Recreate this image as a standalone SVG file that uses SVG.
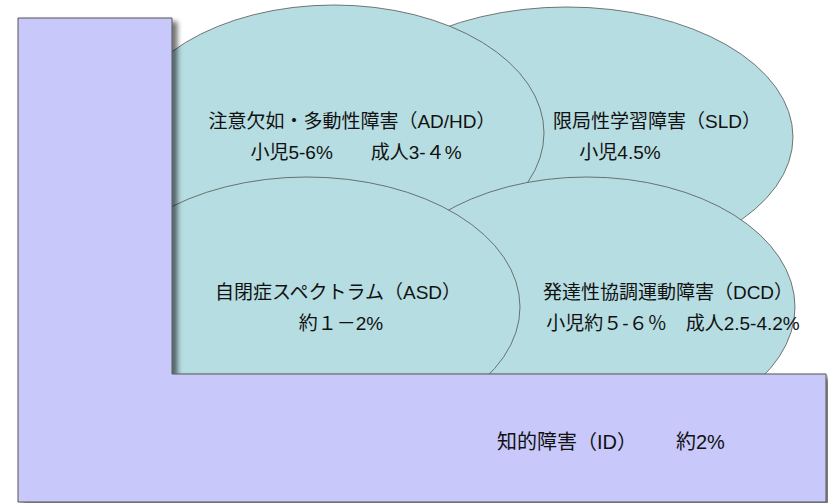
<svg xmlns="http://www.w3.org/2000/svg" width="828" height="503" viewBox="0 0 828 503">
<defs>
<style>
.ell{fill:#b6dde1;stroke:#555;stroke-width:0.8}
.lshape{fill:#c8c8fb;stroke:#555;stroke-width:1}
text{font-family:"Liberation Sans","Noto Sans CJK JP",sans-serif;font-size:19px;fill:#111;text-anchor:middle}
text.id{font-size:20px;text-anchor:start}
</style>
<filter id="sh" x="-10%" y="-10%" width="130%" height="130%">
<feDropShadow dx="5" dy="4" stdDeviation="2.5" flood-color="#000" flood-opacity="0.55"/>
</filter>
</defs>
<rect width="828" height="503" fill="#fff"/>
<g id="sld"><ellipse class="ell" cx="567" cy="137" rx="226" ry="130"/>
<text x="657" y="128">限局性学習障害（SLD）</text>
<text x="620" y="159">小児4.5%</text></g>
<g id="adhd"><ellipse class="ell" cx="334" cy="133" rx="210" ry="128"/>
<text x="352" y="128">注意欠如・多動性障害（AD/HD）</text>
<text x="356" y="159">小児5-6%　　成人3-４%</text></g>
<g id="dcd"><ellipse class="ell" cx="587" cy="307" rx="208" ry="130"/>
<text x="668" y="299">発達性協調運動障害（DCD）</text>
<text x="673" y="330">小児約５-６％　成人2.5-4.2%</text></g>
<g id="asd"><ellipse class="ell" cx="307" cy="307" rx="213" ry="130"/>
<text x="338" y="299">自閉症スペクトラム（ASD）</text>
<text x="341" y="330">約１－2%</text></g>
<g id="id"><path class="lshape" filter="url(#sh)" d="M18,18 H172 V374 H826 V502 H18 Z"/>
<text class="id" x="497" y="449">知的障害（ID）<tspan x="676">約2%</tspan></text></g>
<g id="connectors"/>
</svg>
